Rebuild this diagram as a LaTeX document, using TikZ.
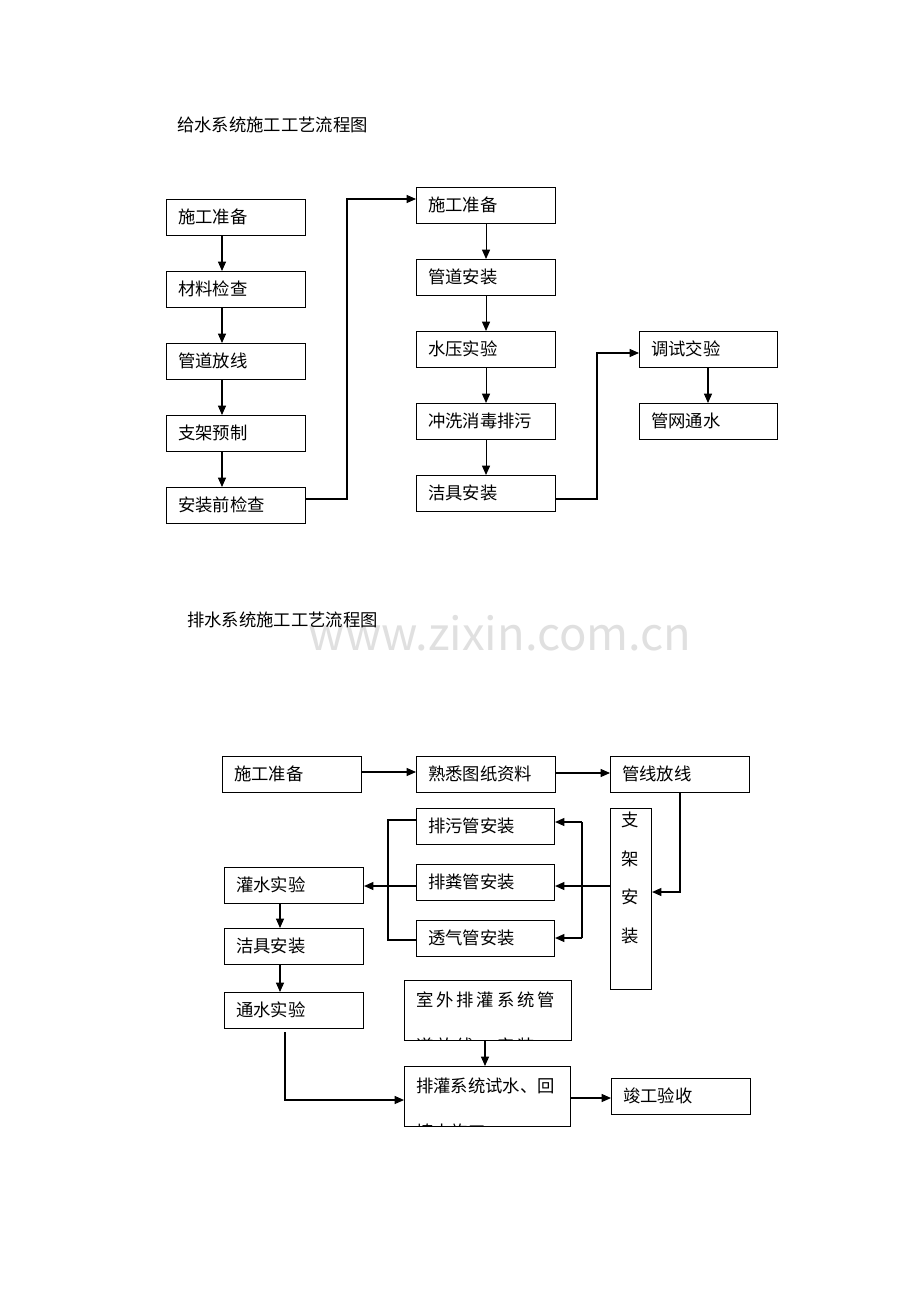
\documentclass[tikz,border=0pt]{standalone}
\usepackage{fontspec}
\setmainfont{Noto Sans CJK SC}
\usetikzlibrary{arrows.meta}
\begin{document}
\begin{tikzpicture}[x=0.75pt,y=-0.75pt,
  box/.style={draw,line width=0.8pt,inner sep=0pt},
  lbl/.style={anchor=west,font=\fontsize{13}{15}\selectfont,inner sep=0pt},
  ar/.style={-{Triangle[length=7pt,width=6pt]},line width=0.8pt},
  ln/.style={line width=0.8pt}]
\useasboundingbox (0,0) rectangle (920,1300);
\fill[white] (0,0) rectangle (920,1300);
\node[text=black!12,font=\fontsize{34}{36}\selectfont] (wm) at (500,633) {www.zixin.com.cn};
\newcommand\bx[6]{\node[box,minimum width=#4*0.75pt-#2*0.75pt,minimum height=#5*0.75pt-#3*0.75pt,anchor=north west] (#1) at (#2,#3) {};
  \node[lbl] (#1t) at (#2+12,#3/2+#5/2) {#6};}
\node[lbl] (t1) at (177,125) {给水系统施工工艺流程图};
\node[lbl] (t2) at (187,620) {排水系统施工工艺流程图};
% top
\bx{a1}{166}{199}{305}{235}{施工准备}
\bx{a2}{166}{271}{305}{307}{材料检查}
\bx{a3}{166}{343}{305}{379}{管道放线}
\bx{a4}{166}{415}{305}{451}{支架预制}
\bx{a5}{166}{487}{305}{523}{安装前检查}
\bx{b1}{416}{187}{555}{223}{施工准备}
\bx{b2}{416}{259}{555}{295}{管道安装}
\bx{b3}{416}{331}{555}{367}{水压实验}
\bx{b4}{416}{403}{555}{439}{冲洗消毒排污}
\bx{b5}{416}{475}{555}{511}{洁具安装}
\bx{c1}{639}{331}{777}{367}{调试交验}
\bx{c2}{639}{403}{777}{439}{管网通水}
\foreach \p/\q in {a1/a2,a2/a3,a3/a4,a4/a5}{\draw[ar] (\p.south -| 222,0) -- (\q.north -| 222,0);}
\foreach \p/\q in {b1/b2,b2/b3,b3/b4,b4/b5}{\draw[ar] (\p.south) -- (\q.north);}
\draw[ar] (c1.south -| 708,0) -- (c2.north -| 708,0);
\coordinate (k1) at (347,499); \coordinate (k2) at (347,199);
\draw[ar] (a5.east |- k1) -- (k1) -- (k2) -- (b1.west |- k2);
\coordinate (k3) at (597,499); \coordinate (k4) at (597,353);
\draw[ar] (b5.east |- k3) -- (k3) -- (k4) -- (c1.west |- k4);
% bottom
\bx{d1}{222}{756}{361}{792}{施工准备}
\bx{d2}{416}{756}{555}{792}{熟悉图纸资料}
\bx{d3}{610}{756}{749}{792}{管线放线}
\bx{e1}{416}{808}{554}{844}{排污管安装}
\bx{e2}{416}{864}{554}{900}{排粪管安装}
\bx{e3}{416}{920}{554}{956}{透气管安装}
\node[box,minimum width=41*0.75pt,minimum height=181*0.75pt,anchor=north west] (zj) at (610,808) {};
\node[font=\fontsize{13}{15}\selectfont,align=center] (zjt) at (630,878) {支\\[14pt]架\\[14pt]安\\[14pt]装};
\bx{f1}{224}{867}{363}{903}{灌水实验}
\bx{f2}{224}{928}{363}{964}{洁具安装}
\bx{f3}{224}{992}{363}{1028}{通水实验}
\node[box,minimum width=167*0.75pt,minimum height=60*0.75pt,anchor=north west] (g1) at (404,980) {};
\node[box,minimum width=166*0.75pt,minimum height=60*0.75pt,anchor=north west] (g2) at (404,1066) {};
\begin{scope}
\clip (404,980) rectangle (571,1040);
\node[lbl] (g1t) at (416,1000) {室\,外\,排\,灌\,系\,统\,管};
\node[lbl] (g1u) at (416,1046) {道\,放\,线\,、\,安\,装};
\end{scope}
\begin{scope}
\clip (404,1066) rectangle (570,1126);
\node[lbl] (g2t) at (416,1086) {排灌系统试水、回};
\node[lbl] (g2u) at (416,1132) {填土施工};
\end{scope}
\bx{h1}{611}{1078}{750}{1114}{竣工验收}
\draw[ar] (d1.east |- 0,772) -- (d2.west |- 0,772);
\draw[ar] (d2.east |- 0,773) -- (d3.west |- 0,773);
\coordinate (m1) at (680,892);
\draw[ar] (d3.south -| m1) -- (m1) -- (zj.east |- m1);
\draw[ar] (zj.west |- 0,886) -- (e2.east |- 0,886);
\coordinate (r1) at (582,822); \coordinate (r2) at (582,938);
\draw[ar] (r1) -- (e1.east |- r1);
\draw[ar] (r2) -- (e3.east |- r2);
\draw[ln] (r1) -- (r2);
\coordinate (l1) at (388,820); \coordinate (l2) at (388,940);
\draw[ln] (e1.west |- l1) -- (l1) -- (l2) -- (e3.west |- l2);
\draw[ar] (e2.west |- 0,886) -- (f1.east |- 0,886);
\draw[ar] (f1.south -| 280,0) -- (f2.north -| 280,0);
\draw[ar] (f2.south -| 280,0) -- (f3.north -| 280,0);
\coordinate (n1) at (285,1100);
\draw[ar] (f3.south -| n1) ++(0,3) -- (n1) -- (g2.west |- n1);
\draw[ar] (g1.south -| 485,0) -- (g2.north -| 485,0);
\draw[ar] (g2.east |- 0,1098) -- (h1.west |- 0,1098);
\end{tikzpicture}
\end{document}
